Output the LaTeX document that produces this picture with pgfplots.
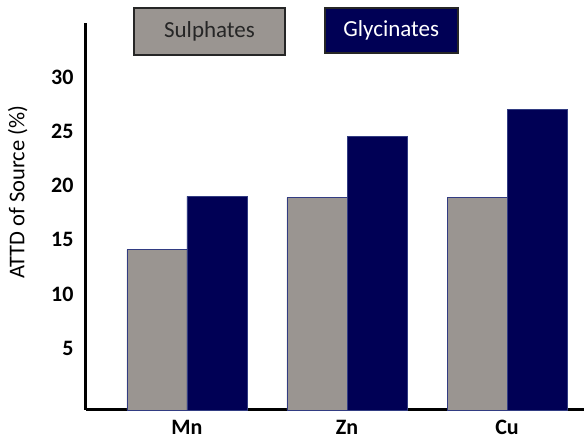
\documentclass[border=0pt]{standalone}
\usepackage{fontspec}
\setmainfont{Carlito}
\usepackage{pgfplots}
\pgfplotsset{compat=1.18}
\definecolor{sulph}{RGB}{154,149,145}
\definecolor{glyc}{RGB}{0,0,85}
\definecolor{edge}{RGB}{50,60,130}
\begin{document}
\begin{tikzpicture}
\begin{axis}[
 scale only axis, width=498pt, height=387pt,
 xmin=-0.631, xmax=2.481, ymin=0, ymax=35.7,
 axis lines=left, axis line style={-, line width=3pt, black},
 ybar=0pt, bar width=0.375,
 xtick={0,1,2}, xticklabels={Mn,Zn,Cu},
 ytick={5,10,...,30},
 major tick length=0pt,
 /pgf/number format/assume math mode=true,
 tick label style={font=\fontsize{22}{26}\selectfont\bfseries},
 yticklabel style={xshift=-9pt, yshift=7.6pt},
 xticklabel style={yshift=-9pt, inner sep=1pt},
 ylabel={ATTD of Source (\%)},
 ylabel style={font=\fontsize{22.5}{26}\selectfont, at={(axis description cs:-0.137,0.563)}, anchor=center},
 clip=false,
]
\addplot[fill=sulph, draw=edge, line width=0.8pt] coordinates {(0,14.8) (1,19.6) (2,19.6)};
\addplot[fill=glyc, draw=edge, line width=0.8pt] coordinates {(0,19.7) (1,25.2) (2,27.7)};
\node[fill=sulph, draw=black!85, line width=2pt, minimum width=151pt, minimum height=47pt, inner sep=0pt, text=black!85, font=\fontsize{23}{27}\selectfont] at (axis description cs:0.248,0.978) {Sulphates};
\node[fill=glyc, draw=black!85, line width=2pt, minimum width=133pt, minimum height=45pt, inner sep=0pt, text=white, font=\fontsize{23}{27}\selectfont] at (axis description cs:0.613,0.981) {Glycinates};
\end{axis}
\pgfresetboundingbox
\path[use as bounding box] ([shift={(-86pt,-33pt)}]current axis.south west) rectangle ([shift={(498pt,410pt)}]current axis.south west);
\end{tikzpicture}
\end{document}
